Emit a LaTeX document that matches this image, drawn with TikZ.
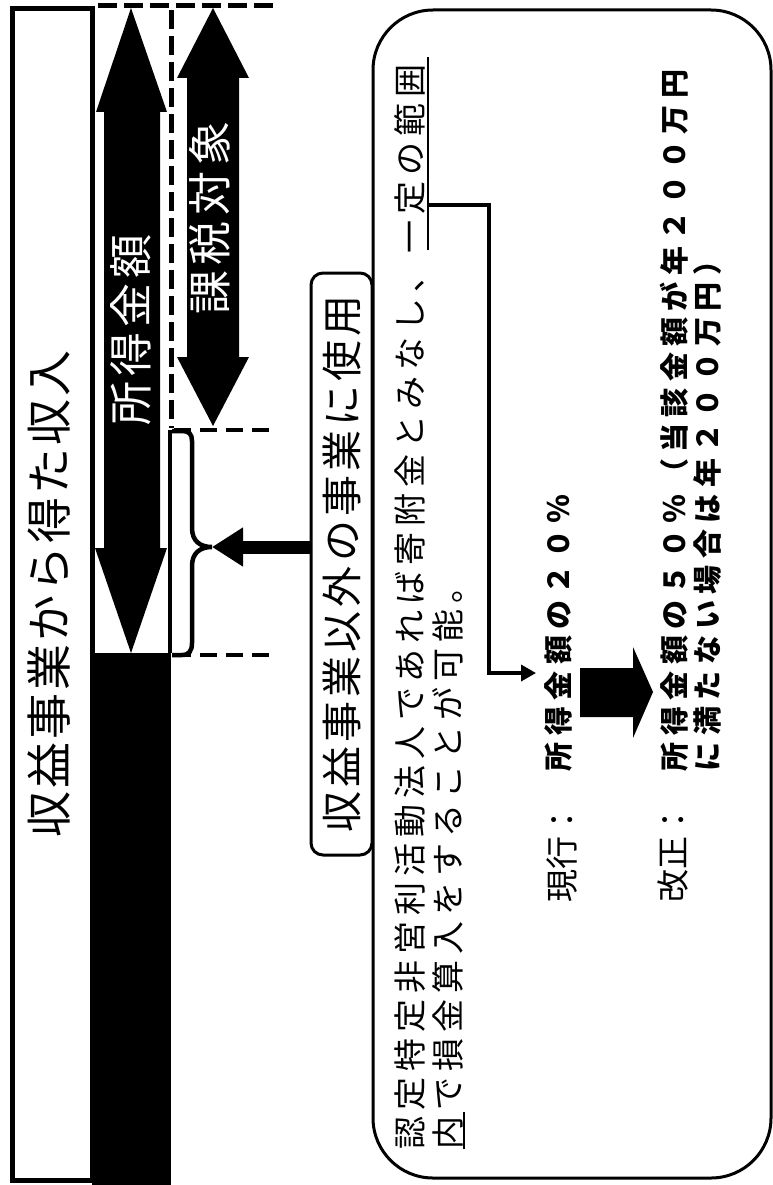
\documentclass[tikz,border=0pt]{standalone}
\usepackage{fontspec}
\newfontfamily\jp{Noto Sans CJK JP}
\usetikzlibrary{arrows.meta}
\newcommand\jsz[2]{\fontsize{#1}{#1}\selectfont\addfontfeatures{LetterSpace=#2}}
\begin{document}
\begin{tikzpicture}[x=1pt,y=-1pt,
  rt/.style={rotate=90, inner sep=0pt, outer sep=0pt, font=\jp},
  dashtop/.style={line width=5pt, dash pattern=on 19pt off 7pt},
  dashh/.style={line width=4pt, dash pattern=on 17pt off 9pt},
  brace/.style={line width=4.5pt},
  conn/.style={line width=3.5pt, -{Triangle[length=15pt,width=16pt]}},
  fat/.style={line width=13pt, -{Triangle[length=31pt,width=37pt]}},
  rbox/.style={draw, line width=3pt, inner sep=0pt, outer sep=0pt}]
\useasboundingbox (0,0) rectangle (773,1185);
\fill[white] (0,0) rectangle (773,1185);
% left column
\draw[line width=5pt] (12,9) rectangle (92,1180);
\fill (92,653) rectangle (171,1185);
\draw[line width=4pt] (170,430) -- (170,653);
% income double arrow
\fill (131,8) -- (167,112) -- (160,112) -- (160,548) -- (167,548) -- (131,653)
  -- (95,548) -- (104,548) -- (104,112) -- (96,112) -- cycle;
% taxable double arrow
\fill (213,8) -- (249,78) -- (239,78) -- (239,357) -- (249,357) -- (213,426)
  -- (177,357) -- (187,357) -- (187,78) -- (177,78) -- cycle;
% dashed guides
\draw[dashtop] (98,6) -- (276,6);
\draw[dashtop] (171,10) -- (171,428);
\draw[dashh] (174,430) -- (276,430);
\draw[dashh] (174,655) -- (276,655);
% texts in column
\node[rt, anchor=base] (title) at (66.5,594) {\jsz{46}{6.5}収益事業から得た収入};
\node[rt, anchor=base, text=white] (inc) at (147.7,330) {\jsz{44}{11}所得金額};
\node[rt, anchor=base, text=white] (tax) at (226.7,218) {\jsz{44}{13.6}課税対象};
% brace
\coordinate (bracetip) at (212,547);
\draw[brace] (172,431) -- (182,431) .. controls (189,431) and (192,434) .. (192,441)
  -- (192,528) .. controls (192,541) and (200,547) .. (bracetip)
  .. controls (200,547) and (192,553) .. (192,566) -- (192,643)
  .. controls (192,651) and (189,655) .. (182,655) -- (172,655);
% boxes
\node[rbox, rounded corners=60pt, minimum width=398pt, minimum height=1168pt] (note) at (572,594) {};
\node[rbox, rt, rounded corners=12pt, minimum width=582pt, minimum height=61pt, fill=white] (src) at (341.5,564) {\jsz{41}{10}収益事業以外の事業に使用};
\draw[fat] (src.north |- bracetip) -- (bracetip);
% note text
\node[rt, anchor=base west] (l1) at (422.5,1149) {\jsz{33}{18}認定特定非営利活動法人であれば寄附金とみなし、一定の範囲};
\node[rt, anchor=base west] (l2) at (460.5,1149) {\jsz{33}{18}内で損金算入をすることが可能。};
\draw[line width=2.5pt] (428,250) -- (428,57);
\draw[line width=2.5pt] (464,1149) -- (464,1112);
\node[rt, anchor=base west] (nowlab) at (574.5,902) {\jsz{33}{0}現行：};
\node[rt, anchor=base west] (cur) at (569,771) {\bfseries\jsz{29}{22}所得金額の２０％};
\node[rt, anchor=base west] (revlab) at (685.5,902) {\jsz{33}{0}改正：};
\node[rt, anchor=base west] (new1) at (685,771) {\bfseries\jsz{29}{22}所得金額の５０％（当該金額が年２００万円};
\node[rt, anchor=base west] (new2) at (718,771) {\bfseries\jsz{29}{22}に満たない場合は年２００万円）};
% connector
\coordinate (ul) at (428,205);
\coordinate (bend) at (489,673);
\coordinate (curin) at (536,673);
\draw[conn] (ul) -| (bend) -- (curin);
% block arrow
\fill (580,668) -- (633,668) -- (633,647) -- (653,692) -- (633,738) -- (633,717) -- (580,717) -- cycle;
\end{tikzpicture}
\end{document}
